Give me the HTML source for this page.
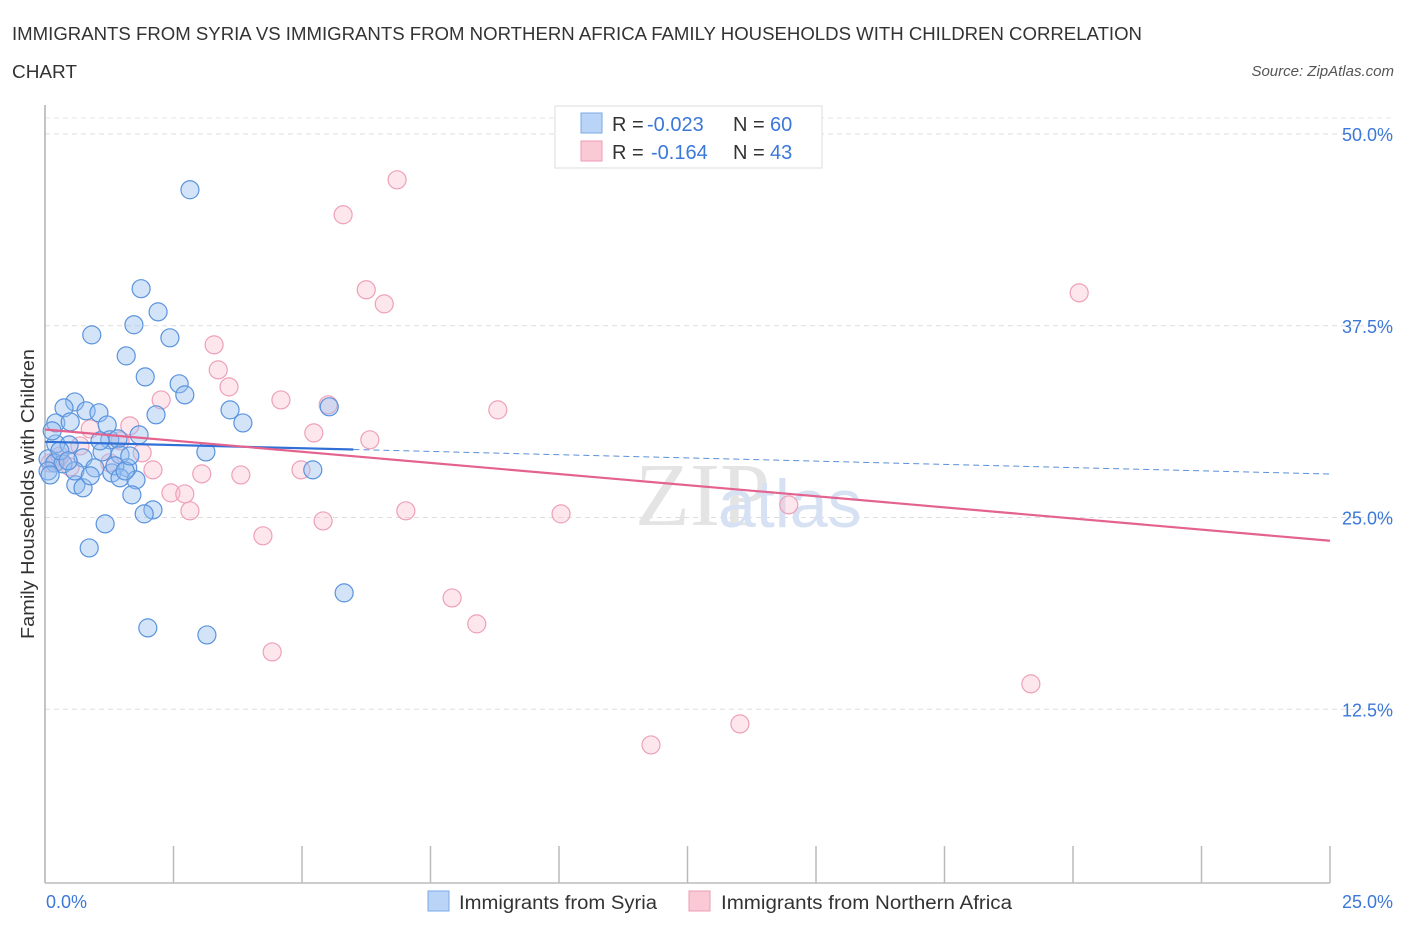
<!DOCTYPE html>
<html><head><meta charset="utf-8"><style>
body{margin:0;background:#fff;font-family:"Liberation Sans",sans-serif;}
svg{display:block}
</style></head><body>
<svg id="chart" width="1406" height="930" xmlns="http://www.w3.org/2000/svg">
<text x="12" y="40" font-size="18" fill="#333" textLength="1130" lengthAdjust="spacingAndGlyphs">IMMIGRANTS FROM SYRIA VS IMMIGRANTS FROM NORTHERN AFRICA FAMILY HOUSEHOLDS WITH CHILDREN CORRELATION</text>
<text x="12" y="78" font-size="18" fill="#333" textLength="65" lengthAdjust="spacingAndGlyphs">CHART</text>
<text x="1394" y="76" font-size="15" fill="#555" font-style="italic" text-anchor="end">Source: ZipAtlas.com</text>
<text x="34" y="494" font-size="18" fill="#333" text-anchor="middle" transform="rotate(-90 34 494)" textLength="290" lengthAdjust="spacingAndGlyphs">Family Households with Children</text>
<g id="grid"></g>
<text x="635" y="525" font-size="90" fill="#e4e4e4" font-family="Liberation Serif,serif">ZIP</text>
<text x="718" y="527" font-size="68" fill="#d6e2f3">atlas</text>
<g id="marks"></g>
<g>
<rect x="555" y="106" width="267" height="62" fill="#fff" stroke="#ddd"/>
<rect x="581" y="113" width="21" height="20" fill="#b9d4f6" stroke="#7aa9e6"/>
<rect x="581" y="141" width="21" height="20" fill="#fbc8d6" stroke="#ec9cb4"/>
<text x="612" y="131" font-size="20" fill="#333">R = <tspan fill="#3b78d8" x="647">-0.023</tspan><tspan x="733">N = </tspan><tspan fill="#3b78d8" x="770">60</tspan></text>
<text x="612" y="159" font-size="20" fill="#333">R = <tspan fill="#3b78d8" x="651">-0.164</tspan><tspan x="733">N = </tspan><tspan fill="#3b78d8" x="770">43</tspan></text>
</g>
<g>
<rect x="428" y="891" width="21" height="20" fill="#b9d4f6" stroke="#7aa9e6"/>
<text x="459" y="909" font-size="19" fill="#333" textLength="198" lengthAdjust="spacingAndGlyphs">Immigrants from Syria</text>
<rect x="689" y="891" width="21" height="20" fill="#fbc8d6" stroke="#ec9cb4"/>
<text x="721" y="909" font-size="19" fill="#333" textLength="291" lengthAdjust="spacingAndGlyphs">Immigrants from Northern Africa</text>
</g>
</svg>
<script>
const yTicks=[12.5,25,37.5,50];
const yTickLabels=["12.5%","25.0%","37.5%","50.0%"];
const xTickLabels=["0.0%","25.0%"];
const syriaX=[2.82,1.87,2.20,1.73,0.91,2.43,1.58,1.95,2.61,2.72,0.58,0.37,3.60,0.80,1.05,2.16,3.85,0.21,0.49,1.21,5.53,1.83,1.26,0.21,1.42,0.47,3.13,1.11,0.06,1.46,0.74,0.19,0.35,1.61,0.97,0.06,1.30,1.36,5.21,1.46,1.77,0.60,0.74,1.69,2.10,1.93,1.17,0.86,5.82,2.00,3.15,0.10,0.29,1.56,1.07,1.65,0.58,0.45,0.88,0.14];
const syriaY=[46.43,39.98,38.47,37.63,36.97,36.78,35.60,34.23,33.78,33.06,32.60,32.21,32.08,32.02,31.89,31.76,31.23,31.23,31.30,31.10,32.28,30.45,30.13,29.86,30.19,29.80,29.34,29.34,28.89,29.15,28.95,28.62,28.56,28.30,28.30,28.10,27.97,28.43,28.17,27.65,27.52,27.19,27.00,26.54,25.56,25.30,24.65,23.08,20.15,17.87,17.41,27.84,29.41,28.10,30.06,29.08,28.10,28.76,27.78,30.71];
const nafX=[10.14,6.85,5.80,6.25,6.60,20.12,3.29,3.37,3.58,4.59,2.26,5.51,8.81,1.65,5.23,6.32,0.88,1.89,0.23,0.49,1.26,2.10,4.98,3.81,3.05,2.45,2.72,2.82,7.02,5.41,10.04,14.47,4.24,7.92,8.40,4.42,19.18,13.52,11.79,0.68,1.46,0.10,0.29];
const nafY=[50.34,47.08,44.80,39.91,38.99,39.71,36.32,34.69,33.58,32.73,32.73,32.41,32.08,31.04,30.58,30.13,30.84,29.28,28.76,28.36,28.63,28.17,28.17,27.84,27.91,26.67,26.60,25.50,25.50,24.84,25.30,25.89,23.87,19.82,18.13,16.30,14.22,11.61,10.24,29.73,30.06,28.62,29.08];
const syriaTrend=[30.0,27.9];
const nafTrend=[30.8,23.55];
const syriaSolidEnd=6.0;

const NS="http://www.w3.org/2000/svg";
const X0=45,X1=1330,Ybot=883;
const sx=v=>X0+(X1-X0)*v/25;
const sy=v=>902-v*191.75/12.5;
function mk(tag,attrs,parent){const e=document.createElementNS(NS,tag);for(const k in attrs)e.setAttribute(k,attrs[k]);parent.appendChild(e);return e;}
const grid=document.getElementById('grid'),marks=document.getElementById('marks');
yTicks.forEach((t,i)=>{
  const l=mk('line',{x1:X0,x2:1392,y1:sy(t)-1,y2:sy(t)-1,stroke:'#ddd','stroke-dasharray':'5,4'},grid);
  
  
  const tx=mk('text',{x:1393,y:sy(t)+6,'font-size':18,fill:'#3b78d8','text-anchor':'end'},grid);
  tx.textContent=yTickLabels[i];
  
  
});
const tl=mk('line',{x1:X0,x2:1392,y1:118,y2:118,stroke:'#e6e6e6','stroke-dasharray':'5,4'},grid);


const ya=mk('line',{x1:X0,x2:X0,y1:105,y2:Ybot,stroke:'#bbb','stroke-width':1.5},grid);


const xa=mk('line',{x1:X0,x2:X1,y1:Ybot,y2:Ybot,stroke:'#bbb','stroke-width':1.5},grid);


for(let i=0;i<=10;i++){
  const t=mk('line',{x1:sx(i*2.5),x2:sx(i*2.5),y1:i==0?105:846,y2:Ybot,stroke:'#bbb','stroke-width':1.5},grid);
  
  
}
[[0,'start',46],[25,'end',1393]].forEach((d,i)=>{
  const tx=mk('text',{x:d[2],y:908,'font-size':18,fill:'#3b78d8','text-anchor':d[1]},grid);
  tx.textContent=xTickLabels[i];
  
  
});
nafX.forEach((x,i)=>{
  const c=mk('circle',{cx:sx(x),cy:sy(nafY[i]),r:9,fill:'rgba(248,186,204,0.35)',stroke:'#eea0b8','stroke-width':1.2},marks);
  
  
});
syriaX.forEach((x,i)=>{
  const c=mk('circle',{cx:sx(x),cy:sy(syriaY[i]),r:9,fill:'rgba(150,190,240,0.42)',stroke:'#5a93dd','stroke-width':1.2},marks);
  
  
});
const syAt=x=>syriaTrend[0]+(syriaTrend[1]-syriaTrend[0])*x/25;
const t1=mk('line',{x1:sx(0),y1:sy(syriaTrend[0]),x2:sx(syriaSolidEnd),y2:sy(syAt(syriaSolidEnd)),stroke:'#2f6fd6','stroke-width':2.2},marks);


const t2=mk('line',{x1:sx(syriaSolidEnd),y1:sy(syAt(syriaSolidEnd)),x2:sx(25),y2:sy(syriaTrend[1]),stroke:'#5a8fdc','stroke-width':1,'stroke-dasharray':'6,4'},marks);


const t3=mk('line',{x1:sx(0),y1:sy(nafTrend[0]),x2:sx(25),y2:sy(nafTrend[1]),stroke:'#e4628e','stroke-width':2.2},marks);


</script>
</body></html>
